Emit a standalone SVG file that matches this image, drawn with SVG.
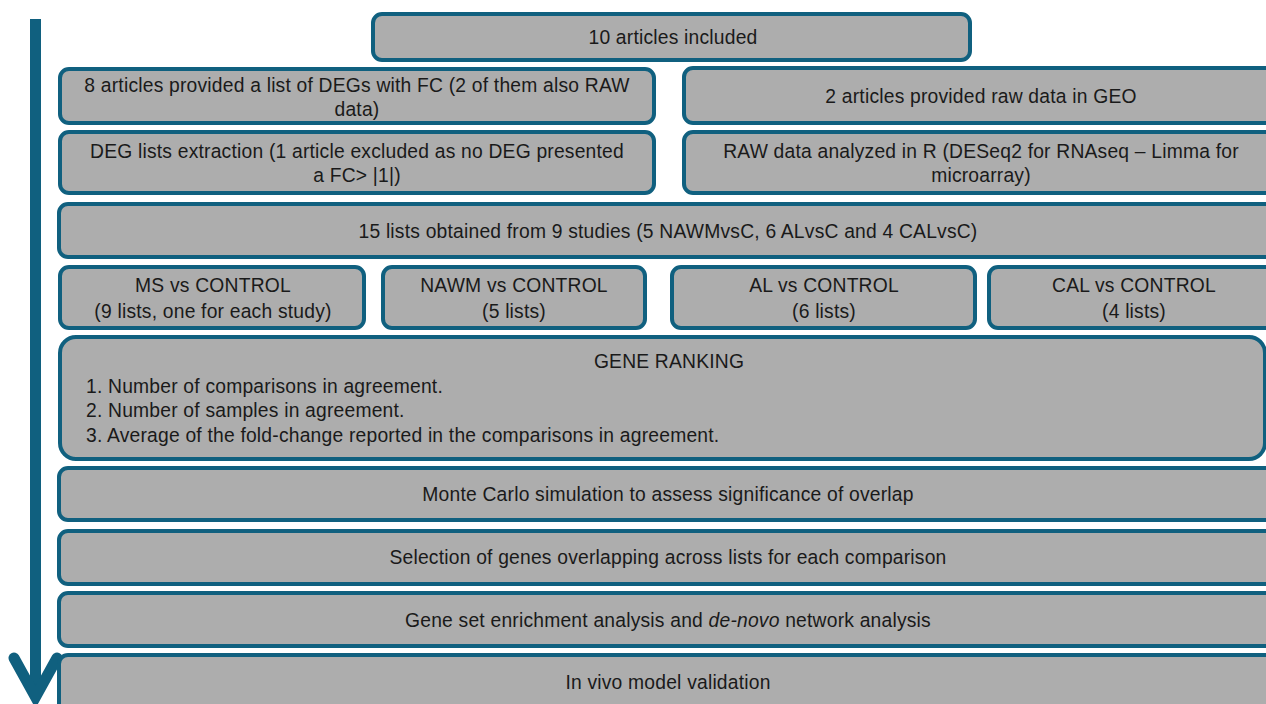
<svg xmlns="http://www.w3.org/2000/svg" width="1266" height="704" viewBox="0 0 1266 704">
<style>
.b{fill:#adadad;stroke:#10607f;stroke-width:4}
text{font-family:"Liberation Sans",Arial,sans-serif;font-size:19.3px;letter-spacing:0.2px;fill:#1a1a1a}
.c{text-anchor:middle}
</style>
<rect width="1266" height="704" fill="#ffffff"/>
<g id="connectors">
<line x1="35.5" y1="19" x2="35.5" y2="694" stroke="#10607f" stroke-width="11"/>
<polyline points="14,658 35.5,697 57,658" fill="none" stroke="#10607f" stroke-width="11" stroke-linecap="round" stroke-linejoin="miter"/>
</g>
<g id="n1"><rect class="b" x="373" y="14" width="597" height="46" rx="9"/><text class="c" x="673" y="44">10 articles included</text></g>
<g id="n2"><rect class="b" x="60" y="69" width="594" height="54" rx="9"/><text class="c" x="357" y="92">8 articles provided a list of DEGs with FC (2 of them also RAW</text><text class="c" x="357" y="116">data)</text></g>
<g id="n3"><rect class="b" x="684" y="68" width="600" height="55" rx="9"/><text class="c" x="981" y="103">2 articles provided raw data in GEO</text></g>
<g id="n4"><rect class="b" x="60" y="132" width="594" height="61" rx="9"/><text class="c" x="357" y="158">DEG lists extraction (1 article excluded as no DEG presented</text><text class="c" x="357" y="182">a FC&gt; |1|)</text></g>
<g id="n5"><rect class="b" x="684" y="132" width="600" height="61" rx="9"/><text class="c" x="981" y="158">RAW data analyzed in R (DESeq2 for RNAseq – Limma for</text><text class="c" x="981" y="182">microarray)</text></g>
<g id="n6"><rect class="b" x="59" y="204" width="1225" height="53" rx="9"/><text class="c" x="668" y="238">15 lists obtained from 9 studies (5 NAWMvsC, 6 ALvsC and 4 CALvsC)</text></g>
<g id="n7"><rect class="b" x="60" y="267" width="304" height="61" rx="9"/><text class="c" x="213" y="292">MS vs CONTROL</text><text class="c" x="213" y="318">(9 lists, one for each study)</text></g>
<g id="n8"><rect class="b" x="383" y="267" width="262" height="61" rx="9"/><text class="c" x="514" y="292">NAWM vs CONTROL</text><text class="c" x="514" y="318">(5 lists)</text></g>
<g id="n9"><rect class="b" x="672" y="267" width="303" height="61" rx="9"/><text class="c" x="824" y="292">AL vs CONTROL</text><text class="c" x="824" y="318">(6 lists)</text></g>
<g id="n10"><rect class="b" x="989" y="267" width="295" height="61" rx="9"/><text class="c" x="1134" y="292">CAL vs CONTROL</text><text class="c" x="1134" y="318">(4 lists)</text></g>
<g id="n11"><rect class="b" x="60" y="337" width="1205" height="122" rx="16"/><text class="c" x="669" y="368">GENE RANKING</text><text x="86" y="393">1. Number of comparisons in agreement.</text><text x="86" y="417">2. Number of samples in agreement.</text><text x="86" y="442">3. Average of the fold-change reported in the comparisons in agreement.</text></g>
<g id="n12"><rect class="b" x="59" y="468" width="1225" height="52" rx="9"/><text class="c" x="668" y="501">Monte Carlo simulation to assess significance of overlap</text></g>
<g id="n13"><rect class="b" x="59" y="531" width="1225" height="53" rx="9"/><text class="c" x="668" y="564">Selection of genes overlapping across lists for each comparison</text></g>
<g id="n14"><rect class="b" x="59" y="593" width="1225" height="53" rx="9"/><text class="c" x="668" y="627">Gene set enrichment analysis and <tspan font-style="italic">de-novo</tspan> network analysis</text></g>
<g id="n15"><rect class="b" x="59" y="655" width="1225" height="60" rx="9"/><text class="c" x="668" y="689">In vivo model validation</text></g>
</svg>
